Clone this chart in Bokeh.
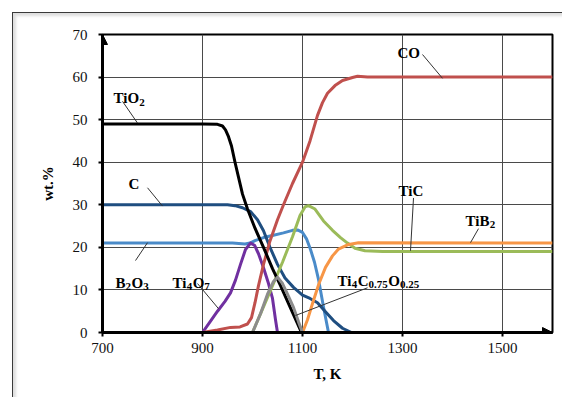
from bokeh.plotting import figure
from bokeh.models import Label, Arrow, NormalHead, FixedTicker, Range1d
from bokeh.embed import file_html
from bokeh.resources import INLINE

# ---------------- data ----------------
T_TiO2 = [700, 900, 930, 940, 946, 952, 958, 965, 972, 980, 990, 1005, 1022, 1040, 1056, 1075, 1098]
W_TiO2 = [49, 49, 48.9, 48.5, 47.6, 46, 43.8, 40, 36.5, 32.5, 29, 24.5, 20, 15, 11, 6, 0]

T_C = [700, 950, 965, 980, 996, 1010, 1022, 1035, 1050, 1065, 1082, 1100, 1115, 1130, 1145, 1162, 1180, 1198]
W_C = [30, 30, 29.8, 29.3, 28.4, 26.5, 23.9, 20, 16, 12.8, 10.6, 8.8, 8, 7, 5, 2.8, 1, 0]

T_B2O3 = [700, 960, 985, 995, 1005, 1022, 1040, 1062, 1080, 1090, 1100, 1108, 1116, 1124, 1132, 1142, 1152]
W_B2O3 = [21, 21, 20.8, 21, 21.6, 22.3, 22.8, 23.4, 24, 24.1, 23.5, 22, 19.5, 16.5, 12.5, 6, 0]

T_Ti4O7 = [900, 915, 930, 945, 956, 966, 976, 986, 996, 1004, 1012, 1022, 1032, 1040, 1046, 1050]
W_Ti4O7 = [0, 2.5, 5, 7.3, 9.3, 12.3, 16, 19.5, 21, 20.5, 18.5, 15.2, 11.5, 8, 3, 0]

T_CO = [900, 930, 956, 975, 990, 998, 1005, 1012, 1022, 1035, 1050, 1062, 1080, 1100, 1115, 1130, 1140, 1150, 1165, 1180, 1200, 1210, 1230, 1600]
W_CO = [0, 0.6, 1.2, 1.3, 2, 3.5, 7, 11, 16, 21.5, 26.5, 30, 35, 40, 45, 51, 54, 56.2, 58, 59.2, 59.9, 60.2, 60, 60]

T_TiC = [1000, 1020, 1040, 1060, 1080, 1095, 1105, 1112, 1125, 1142, 1160, 1176, 1190, 1205, 1225, 1260, 1600]
W_TiC = [0, 5.5, 11, 16.5, 22.5, 27.5, 29.5, 29.8, 29, 26.2, 24, 22.3, 21, 19.8, 19.2, 19, 19]

T_TiB2 = [1100, 1110, 1120, 1133, 1146, 1160, 1172, 1190, 1212, 1600]
W_TiB2 = [0, 3, 6.8, 11.5, 15.3, 18, 19.6, 20.6, 21.1, 21]

T_Ti4C = [1000, 1016, 1030, 1042, 1050, 1060, 1070, 1082, 1092, 1100]
W_Ti4C = [0, 4.4, 9, 12, 13, 11.5, 9, 5.9, 2.5, 0]

X_TICKS = [700, 900, 1100, 1300, 1500]
Y_TICKS = [0, 10, 20, 30, 40, 50, 60, 70]

FONT = "Liberation Serif"
BASE = 15
SUB = 11

p = figure(width=550, height=385, output_backend="svg", toolbar_location=None,
           x_range=Range1d(700, 1600), y_range=Range1d(0, 70),
           min_border_left=89, min_border_right=11, min_border_top=21, min_border_bottom=66)
p.styles = {"margin-left": "12px", "margin-top": "12px",
            "border-left": "1px solid #3a3a3a", "border-top": "1px solid #3a3a3a",
            "box-shadow": "inset 3px 3px 3px #dedede"}
p.background_fill_color = "white"
p.border_fill_alpha = 0
p.outline_line_color = "black"
p.outline_line_width = 2

p.xaxis.ticker = FixedTicker(ticks=X_TICKS)
p.yaxis.ticker = FixedTicker(ticks=Y_TICKS)
for ax in (p.xaxis, p.yaxis):
    ax.axis_line_width = 3
    ax.axis_line_color = "black"
    ax.major_tick_line_width = 2
    ax.major_tick_line_color = "black"
    ax.major_tick_out = 4
    ax.major_tick_in = 0
    ax.minor_tick_line_color = None
    ax.major_label_text_font = FONT
    ax.major_label_text_font_size = f"{BASE}px"
    ax.major_label_text_color = "#111111"
    ax.axis_label_text_font = FONT
    ax.axis_label_text_font_size = f"{BASE}px"
    ax.axis_label_text_font_style = "bold"
    ax.axis_label_text_color = "black"
p.xaxis.axis_label = "T, K"
p.yaxis.axis_label = "wt.%"
p.xaxis.major_label_standoff = 6
p.xaxis.axis_label_standoff = 10
p.yaxis.major_label_standoff = 11
p.yaxis.axis_label_standoff = 14

p.xgrid.grid_line_color = "#4a4a4a"
p.ygrid.grid_line_color = "#4a4a4a"
p.xgrid.grid_line_width = 1
p.ygrid.grid_line_width = 1

LW = 3
p.line(T_B2O3, W_B2O3, line_color="#4A8BC9", line_width=LW, line_join="round")
p.line(T_C, W_C, line_color="#1F4E80", line_width=LW, line_join="round")
p.line(T_Ti4O7, W_Ti4O7, line_color="#7030A0", line_width=LW, line_join="round")
p.line(T_CO, W_CO, line_color="#C0504D", line_width=LW, line_join="round")
p.line(T_TiC, W_TiC, line_color="#9BBB59", line_width=LW, line_join="round")
p.line(T_TiB2, W_TiB2, line_color="#F79646", line_width=LW, line_join="round")
p.line(T_TiO2, W_TiO2, line_color="black", line_width=LW, line_join="round")
p.line(T_Ti4C, W_Ti4C, line_color="#8C8C8C", line_width=LW, line_join="round")

# axis arrows
p.add_layout(Arrow(end=NormalHead(size=10, fill_color="black", line_color="black", line_width=1),
                   x_start=700, y_start=67, x_end=700, y_end=70, line_width=3, line_color="black"))
p.add_layout(Arrow(end=NormalHead(size=10, fill_color="black", line_color="black", line_width=1),
                   x_start=1580, y_start=0, x_end=1600, y_end=0, line_width=3, line_color="black"))

# ---------------- annotation labels ----------------
WID = {'T': 667, 'i': 278, 'O': 778, 'C': 722, 'B': 667, '.': 250}


def tw(s, size):
    return sum(WID.get(c, 500) for c in s) * size / 1000.0


def chem(x, y, parts):
    off = 0.0
    for s, sub in parts:
        size = SUB if sub else BASE
        p.add_layout(Label(x=x, y=y, text=s, x_offset=off, y_offset=-4 if sub else 0,
                           text_font=FONT, text_font_size=f"{size}px", text_font_style="bold",
                           text_baseline="alphabetic", text_align="left", text_color="black"))
        off += tw(s, size) + (0.5 if sub else 0)


chem(722, 55.0, [("TiO", 0), ("2", 1)])
chem(752, 34.9, [("C", 0)])
chem(726, 11.7, [("B", 0), ("2", 1), ("O", 0), ("3", 1)])
chem(840, 11.7, [("Ti", 0), ("4", 1), ("O", 0), ("7", 1)])
chem(1170, 12.2, [("Ti", 0), ("4", 1), ("C", 0), ("0.75", 1), ("O", 0), ("0.25", 1)])
chem(1292, 33.3, [("TiC", 0)])
chem(1426, 26.2, [("TiB", 0), ("2", 1)])
chem(1290, 65.6, [("CO", 0)])

# leader lines
LEAD_X0 = [740, 790, 766, 890, 1230, 1322, 1452, 1340]
LEAD_Y0 = [54.3, 34.0, 16.9, 11.5, 10.5, 31.6, 24.4, 65.3]
LEAD_X1 = [770, 820, 790, 932, 1086, 1316, 1436, 1380]
LEAD_Y1 = [49.2, 29.7, 21.1, 5.6, 4.0, 19.2, 21.1, 59.7]
p.segment(LEAD_X0, LEAD_Y0, LEAD_X1, LEAD_Y1, line_color="#333333", line_width=1)

open("out.html", "w").write(file_html(p, INLINE))
